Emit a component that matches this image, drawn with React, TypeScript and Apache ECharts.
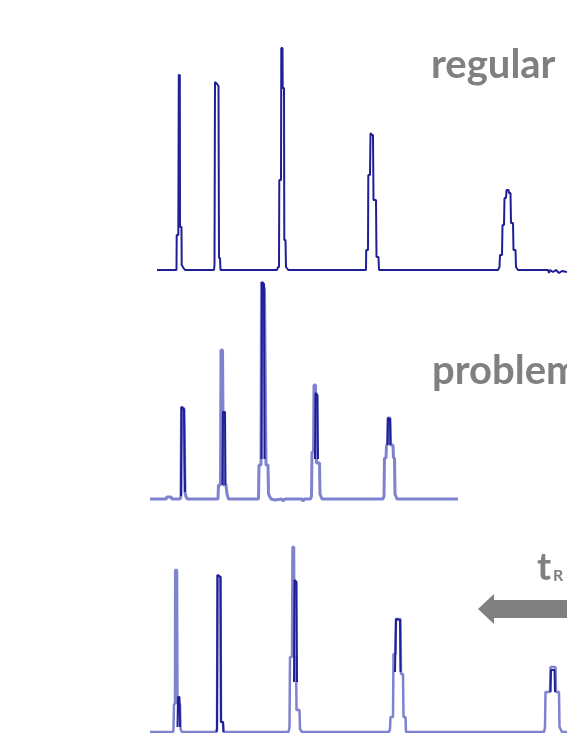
import React, { useEffect, useRef } from "react";
import * as echarts from "echarts";

// retention time (arbitrary units) vs detector signal
const regularTrace: number[][] = [
  [0.7, 0],
  [2.65, 0], [2.67, 35], [2.83, 35], [2.88, 195], [2.98, 195], [3.0, 43], [3.15, 43], [3.17, 5], [3.35, 2], [3.5, 0],
  [6.4, 0], [6.45, 5], [6.5, 188], [6.7, 186], [6.85, 184], [6.9, 12], [7.0, 12], [7.05, 0],
  [12.7, 0], [12.8, 3], [12.9, 3], [12.93, 90], [13.1, 90], [13.13, 222], [13.25, 222], [13.27, 182], [13.4, 182], [13.43, 30], [13.55, 30], [13.6, 3], [13.83, 0],
  [21.5, 0], [21.6, 0], [21.62, 20], [21.8, 20], [21.83, 95], [22.0, 95], [22.05, 137], [22.2, 135], [22.3, 135], [22.35, 70], [22.6, 70], [22.65, 13], [22.85, 13], [22.9, 0],
  [34.8, 0], [34.95, 3], [35.0, 15], [35.2, 15], [35.25, 45], [35.4, 45], [35.45, 72], [35.6, 72], [35.65, 80], [35.85, 80], [35.9, 77], [36.05, 77], [36.1, 47], [36.3, 47], [36.35, 20], [36.55, 20], [36.6, 3], [36.8, 0],
  [39.8, 0], [39.9, -3], [40.0, 0], [40.3, -2], [40.6, 0], [40.9, -3], [41.2, -1], [41.7, -2],
];

const problemTrace: number[][] = [
  [0, 0], [1.6, 0], [1.7, 2], [2.1, 2], [2.2, 0],
  [3.0, 0], [3.1, 3], [3.15, 92], [3.4, 90], [3.5, 7], [3.6, 2], [3.75, 0],
  [6.8, 0], [6.85, 14], [7.05, 14], [7.1, 149], [7.25, 149], [7.35, 14], [7.6, 14], [7.7, 5], [7.85, 0],
  [10.85, 0], [10.9, 34], [11.1, 34], [11.15, 217], [11.45, 210], [11.6, 34], [11.8, 34], [11.85, 5], [12.1, 0],
  [12.5, -1], [13.2, 0], [13.3, -2], [13.5, 0], [15.2, 0], [15.3, -2], [15.45, 0],
  [16.05, 0], [16.15, 3], [16.2, 47], [16.35, 47], [16.4, 114], [16.55, 114], [16.65, 36], [16.95, 36], [17.0, 5], [17.2, 0],
  [23.3, 0], [23.4, 3], [23.45, 41], [23.6, 41], [23.65, 54], [23.75, 54], [23.8, 81], [24.0, 81], [24.05, 54], [24.3, 54], [24.35, 41], [24.45, 41], [24.5, 5], [24.7, 0],
  [30.8, 0],
];

const problemOverlay: number[][][] = [
  [[3.1, 3], [3.15, 92], [3.4, 90], [3.5, 7]],
  [[7.25, 14], [7.3, 87], [7.5, 87], [7.55, 14]],
  [[11.15, 40], [11.2, 217], [11.4, 215], [11.45, 40]],
  [[16.5, 40], [16.55, 106], [16.75, 104], [16.8, 40]],
  [[23.75, 54], [23.8, 81], [24.0, 80], [24.05, 54]],
];

const shiftedTrace: number[][] = [
  [0, 0],
  [2.3, 0], [2.35, 3], [2.4, 28], [2.5, 28], [2.52, 162], [2.7, 162], [2.75, 28], [3.0, 28], [3.05, 3], [3.2, 0],
  [6.6, 0], [6.7, 3], [6.75, 157], [7.05, 155], [7.1, 10], [7.3, 10], [7.35, 0],
  [13.85, 0], [13.95, 5], [14.0, 75], [14.2, 75], [14.25, 185], [14.4, 185], [14.45, 75], [14.6, 75], [14.65, 22], [14.95, 22], [15.0, 3], [15.2, 0],
  [23.9, 0], [24.0, 3], [24.05, 15], [24.3, 15], [24.35, 78], [24.55, 78], [24.6, 113], [25.05, 113], [25.1, 58], [25.3, 58], [25.35, 15], [25.55, 15], [25.6, 0],
  [39.4, 0], [39.5, 5], [39.55, 40], [40.0, 40], [40.05, 65], [40.55, 65], [40.6, 40], [40.9, 40], [40.95, 5], [41.2, 0], [41.7, 0],
];

const shiftedOverlay: number[][][] = [
  [[2.75, 5], [2.8, 35], [2.95, 35], [3.0, 5]],
  [[6.65, 0], [6.7, 3], [6.75, 157], [7.05, 155], [7.1, 10], [7.3, 10], [7.35, 0]],
  [[14.4, 50], [14.45, 152], [14.65, 150], [14.7, 50]],
  [[24.5, 60], [24.6, 113], [25.0, 112], [25.05, 60]],
  [[40.05, 40], [40.1, 62], [40.45, 62], [40.5, 40]],
];

const panelLabels = ["regular", "problem"];
const timeLabel = "t";
const timeSub = "R";

const NAVY = "#1f1f96";
const LIGHT = "#7f82cf";
const GREY = "#808080";
const TMAX = 41.7;
const YMAX = 230;

export default function App() {
  const ref = useRef<HTMLDivElement>(null);
  useEffect(() => {
    if (!ref.current) return;
    const chart = echarts.init(ref.current, undefined, { renderer: "svg" });
    const grids = [
      { left: 150, right: 0, top: 40, height: 230 },
      { left: 150, right: 0, top: 269, height: 230 },
      { left: 150, right: 0, top: 502, height: 230 },
    ];
    const xAxis = grids.map((_, i) => ({ type: "value", gridIndex: i, min: 0, max: TMAX, show: false }));
    const yAxis = grids.map((_, i) => ({ type: "value", gridIndex: i, min: 0, max: YMAX, show: false }));
    const line = (data: number[][], idx: number, color: string, width: number) => ({
      type: "line",
      data,
      xAxisIndex: idx,
      yAxisIndex: idx,
      showSymbol: false,
      symbol: "none",
      clip: false,
      lineStyle: { color, width },
      silent: true,
    });
    const series: any[] = [
      line(regularTrace, 0, NAVY, 2),
      line(problemTrace, 1, LIGHT, 3),
      ...problemOverlay.map((seg) => line(seg, 1, NAVY, 2)),
      line(shiftedTrace, 2, LIGHT, 2.5),
      ...shiftedOverlay.map((seg) => line(seg, 2, NAVY, 2)),
    ];
    const font = (size: number) => `bold ${size}px Lato, "Open Sans", sans-serif`;
    chart.setOption({
      animation: false,
      grid: grids,
      xAxis,
      yAxis,
      series,
      graphic: [
        { type: "text", x: 431, y: 63, style: { text: panelLabels[0], font: font(40), fill: GREY, align: "left", verticalAlign: "middle" } },
        { type: "text", x: 432, y: 369, style: { text: panelLabels[1], font: font(40), fill: GREY, align: "left", verticalAlign: "middle" } },
        { type: "text", x: 537, y: 565, style: { text: timeLabel, font: font(38), fill: GREY, align: "left", verticalAlign: "middle" } },
        { type: "text", x: 553, y: 574, style: { text: timeSub, font: font(16), fill: GREY, align: "left", verticalAlign: "middle" } },
        {
          type: "polygon",
          shape: { points: [[478, 609], [494, 594], [494, 600], [567, 600], [567, 618], [494, 618], [494, 624]] },
          style: { fill: GREY },
        },
      ],
    });
    return () => chart.dispose();
  }, []);
  return <div ref={ref} style={{ position: "fixed", left: 0, top: 0, width: 567, height: 733 }} />;
}
